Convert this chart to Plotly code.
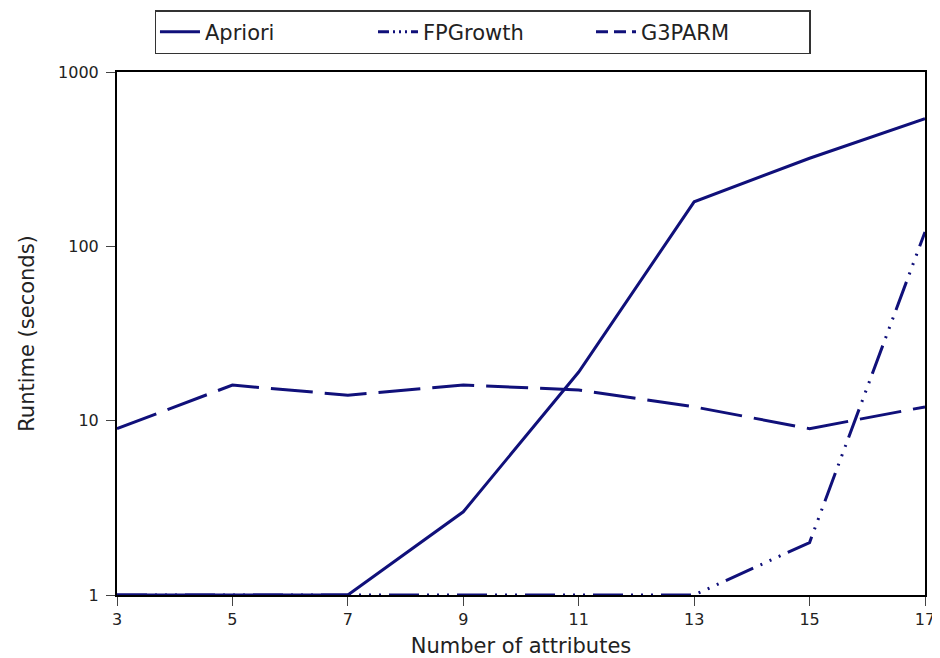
import plotly.graph_objects as go

attributes = [3, 5, 7, 9, 11, 13, 15, 17]
apriori = [1, 1, 1, 3, 19, 180, 320, 540]
fpgrowth = [1, 1, 1, 1, 1, 1, 2, 121]
g3parm = [9, 16, 14, 16, 15, 12, 9, 12]
y_ticks = [1, 10, 100, 1000]

color = "#10107a"
series = [
    ("Apriori", apriori, "solid", "solid"),
    ("FPGrowth", fpgrowth, "30px,8px,2px,8px,2px,8px,2px,8px",
     "11px,4px,2px,4px,2px,4px,2px,4px"),
    ("G3PARM", g3parm, "42px,12px", "12px,6px"),
]

fig = go.Figure()
for name, values, dash, legend_dash in series:
    fig.add_trace(go.Scatter(x=attributes, y=values, mode="lines", name=name,
                             legendgroup=name, showlegend=False,
                             line=dict(color=color, width=3, dash=dash)))
    # legend-only entry with a shorter dash so the pattern is visible in the key
    fig.add_trace(go.Scatter(x=[None], y=[None], mode="lines", name=name,
                             legendgroup=name, showlegend=True,
                             line=dict(color=color, width=3, dash=legend_dash)))

# page body has an 8px default margin, so the figure is drawn 8px smaller
fig.update_layout(
    width=932, height=650,
    paper_bgcolor="white", plot_bgcolor="white",
    margin=dict(l=109, r=15, t=64, b=63, autoexpand=False),
    font=dict(family="DejaVu Sans", size=16, color="#222"),
    legend=dict(orientation="h", x=0.047, y=1.1185, xanchor="left", yanchor="top",
                bordercolor="#333", borderwidth=1.5, font=dict(size=21),
                entrywidth=163, itemwidth=40),
    xaxis=dict(range=[3, 17], tickvals=attributes, ticks="outside", ticklen=9,
               showgrid=False, zeroline=False, showline=True, linecolor="black",
               linewidth=2, mirror=True,
               title=dict(text="Number of attributes", font=dict(size=21), standoff=10)),
    yaxis=dict(type="log", range=[0, 3], tickvals=y_ticks,
               ticktext=[str(v) for v in y_ticks], ticks="outside", ticklen=9,
               ticklabelstandoff=4,
               showgrid=False, zeroline=False, showline=True, linecolor="black",
               linewidth=2, mirror=True,
               title=dict(text="Runtime (seconds)", font=dict(size=21), standoff=18)),
)
fig.write_html("out.html")
